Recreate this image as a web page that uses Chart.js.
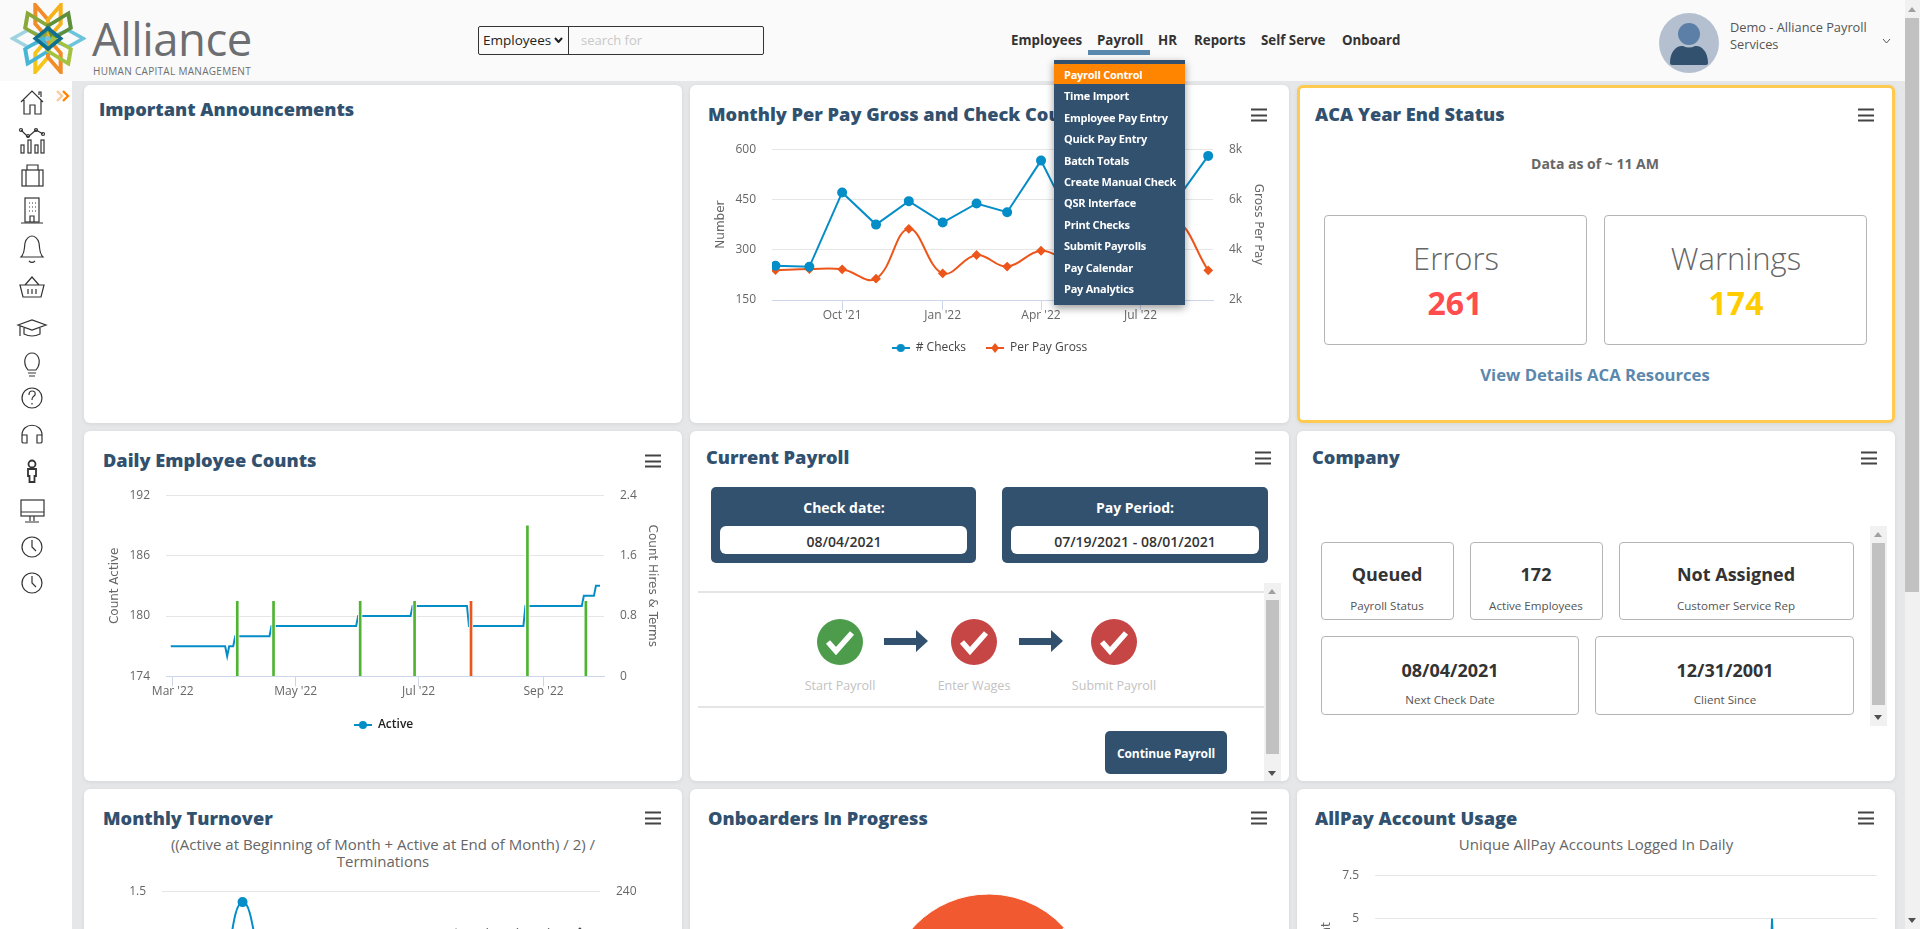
<!DOCTYPE html>
<html lang="en">
<head>
<meta charset="UTF-8" />
<title>Alliance Dashboard</title>
<script src="https://cdn.jsdelivr.net/npm/chart.js"></script>
<style>
  * { box-sizing: border-box; }
  html, body { margin: 0; width: 1920px; height: 929px; overflow: hidden; background: #e6e7e8; font-family: "Open Sans", sans-serif; color: #333; }
  .abs, .card, .txt, .box, canvas, svg.ic { position: absolute; }
  .card { background: #fff; border-radius: 6px; box-shadow: 0 1px 4px rgba(0,0,0,.08); }
  .title { position: absolute; font-weight: 800; font-size: 18.2px; color: #31516f; line-height: 24px; white-space: nowrap; transform: translateY(calc(-50% - 1px)); }
  .burger { position: absolute; width: 16px; height: 13px; border-top: 2px solid #444; border-bottom: 2px solid #444; transform: translate(-50%,-50%); }
  .burger::after { content: ""; position: absolute; left: 0; right: 0; top: 3.5px; height: 2px; background: #444; }
  .txt { white-space: nowrap; transform: translateY(-50%); }
  .ctr { transform: translate(-50%,-50%); text-align: center; }
  .box { border: 1px solid #b5b5b5; border-radius: 4px; background: #fff; }
  .nav { position: absolute; top: 40px; font-size: 13.3px; font-weight: 700; color: #333; transform: translateY(-50%); white-space: nowrap; }
  .menu-item { position: absolute; left: 1064px; font-size: 11px; letter-spacing: -.25px; font-weight: 700; color: #fff; transform: translateY(calc(-50% - 1px)); white-space: nowrap; }
  .track { position: absolute; background: #f1f1f1; }
  .thumb { position: absolute; background: #c1c1c1; }
  .up, .down { position: absolute; width: 0; height: 0; border-left: 4px solid transparent; border-right: 4px solid transparent; }
  .up { border-bottom: 5px solid #a0a0a0; }
  .down { border-top: 5px solid #505050; }
  .dark { position: absolute; background: #31516f; border-radius: 5px; }
  .white { position: absolute; background: #fff; border-radius: 6px; }
</style>
</head>
<body>

<!-- header -->
<div class="abs" style="left:0;top:0;width:1905px;height:81px;background:#fafafa"></div>
<svg class="ic" style="left:10px;top:3px" width="76" height="71" viewBox="10 4 60 68" preserveAspectRatio="none" fill="none" stroke-width="3.2">
  <path d="M40 38 L30 24 L30 6 L40 20 Z" stroke="#f28c28"/><path d="M40 38 L50 24 L50 6 L40 20 Z" stroke="#f5b21a"/>
  <path d="M40 38 L30 52 L30 70 L40 56 Z" stroke="#f5c518"/><path d="M40 38 L50 52 L50 70 L40 56 Z" stroke="#f28c28"/>
  <path d="M40 38 L24 30 L12 38 L24 46 Z" stroke="#9fd3e0"/><path d="M40 38 L56 30 L68 38 L56 46 Z" stroke="#6cc4dc"/>
  <path d="M24 14 L40 26 L36 38 L22 28 Z" stroke="#8aa83a"/><path d="M56 14 L40 26 L44 38 L58 28 Z" stroke="#5e8f3a"/>
  <path d="M24 62 L40 50 L36 38 L22 48 Z" stroke="#47b5d5"/><path d="M56 62 L40 50 L44 38 L58 48 Z" stroke="#a5c23f"/>
  <path d="M40 28 L50 38 L40 48 L30 38 Z" stroke="#0f6f8f"/>
</svg>
<div class="txt" style="left:92px;top:38px;font-size:45.5px;color:#6d6e71;font-weight:400;letter-spacing:-.5px">Alliance</div>
<div class="txt" style="left:93px;top:71px;font-size:10px;color:#6d6e71;letter-spacing:.3px">HUMAN CAPITAL MANAGEMENT</div>

<div class="abs" style="left:478px;top:26px;width:286px;height:29px;border:1px solid #333;border-radius:2px"></div>
<div class="abs" style="left:568px;top:26px;width:1px;height:29px;background:#333"></div>
<div class="txt" style="left:483px;top:40px;font-size:13.5px;color:#222">Employees</div>
<svg class="ic" style="left:554px;top:37px" width="9" height="6" viewBox="0 0 9 6" fill="none" stroke="#222" stroke-width="2"><path d="M1 1 L4.5 5 L8 1"/></svg>
<div class="txt" style="left:581px;top:40px;font-size:13px;color:#c8c8c8">search for</div>

<div class="nav" style="left:1011px">Employees</div>
<div class="nav" style="left:1097px">Payroll</div>
<div class="nav" style="left:1158px">HR</div>
<div class="nav" style="left:1194px">Reports</div>
<div class="nav" style="left:1261px">Self Serve</div>
<div class="nav" style="left:1342px">Onboard</div>
<div class="abs" style="left:1088px;top:50px;width:62px;height:5px;background:#5b88ad"></div>

<svg class="ic" style="left:1659px;top:13px" width="60" height="60" viewBox="0 0 60 60">
  <circle cx="30" cy="30" r="30" fill="#b4c0cf"/><circle cx="30" cy="21" r="11" fill="#5b7fa6"/>
  <path d="M11 50 C11 38 18 32 24 33 Q30 36 36 33 C42 32 49 38 49 50 Q49 52 46 52 L14 52 Q11 52 11 50 Z" fill="#31516f"/>
</svg>
<div class="txt" style="left:1730px;top:27px;font-size:12.8px;color:#555">Demo - Alliance Payroll</div>
<div class="txt" style="left:1730px;top:44px;font-size:12.8px;color:#555">Services</div>
<svg class="ic" style="left:1882px;top:38px" width="9" height="6" viewBox="0 0 9 6" fill="none" stroke="#555" stroke-width="1"><path d="M1 1 L4.5 5 L8 1"/></svg>

<!-- sidebar -->
<div class="abs" style="left:0;top:81px;width:72px;height:848px;background:#fff"></div>
<svg class="ic" style="left:56px;top:90px" width="14" height="12" viewBox="0 0 14 12" fill="none" stroke-width="2.4"><path d="M1 1 L6 6 L1 11" stroke="#fcc999"/><path d="M7 1 L12 6 L7 11" stroke="#ff8400"/></svg>
<svg class="ic" style="left:12px;top:85px" width="40" height="512" viewBox="0 0 40 512" fill="none" stroke="#333" stroke-width="1.2">
  <path d="M9 17 L20 6 L31 17 M12 15 V29 H18 V20 H23 V29 H29 V15 M27 10 V7 H29 V12"/>
  <path d="M9 45 L16 52 L24 45 L31 49"/><circle cx="9" cy="45" r="1.5"/><circle cx="16" cy="51" r="1.5"/><circle cx="24" cy="45" r="1.5"/><circle cx="31" cy="49" r="1.5"/>
  <rect x="9" y="60" width="3" height="8"/><rect x="16" y="55" width="3" height="13"/><rect x="23" y="60" width="3" height="8"/><rect x="29" y="55" width="3" height="13"/>
  <rect x="10" y="85" width="21" height="16"/><path d="M15 85 V80 H26 V85 M14 85 V101 M27 85 V101"/>
  <rect x="13" y="113" width="14" height="24"/><path d="M9 138 H31 M17 118 h1 M20 118 h1 M23 118 h1 M17 122 h1 M20 122 h1 M23 122 h1 M17 126 h1 M20 126 h1 M23 126 h1 M18 137 V131 H22 V137"/>
  <path d="M9 172 C13 168 12 164 13 158 C14 153 18 151 20 151 C22 151 26 153 27 158 C28 164 27 168 31 172 Z M17 176 Q20 179 23 176"/>
  <path d="M8 200 H32 L29 212 H11 Z M13 200 L20 192 L27 200 M16 204 V209 M20 204 V209 M24 204 V209"/>
  <path d="M6 240 L20 235 L34 240 L20 245 Z M12 243 V249 Q20 253 28 249 V243 M8 241 V251"/>
  <path d="M14 282 C11 275 14 268 20 268 C26 268 29 275 26 282 L24 285 H16 Z M16 288 H24 M17 291 H23"/>
  <circle cx="20" cy="313" r="10"/><path d="M17 310 Q17 306 20 306 Q24 306 23 310 Q20 312 20 315 M20 318 V319.5"/>
  <path d="M10 357 V350 C10 337 30 337 30 350 V357 M11 350 Q10 350 10 351 V357 Q10 358 12 358 H15 V350 Z M29 350 Q30 350 30 351 V357 Q30 358 28 358 H25 V350 Z"/>
  <circle cx="20" cy="379" r="3.5" stroke-width="1.8"/><path d="M16 384 H24 V391 H22.5 V397 H17.5 V391 H16 Z" stroke-width="1.8"/>
  <rect x="9" y="415" width="23" height="16"/><path d="M9 427 H32 M18 431 V436 M22 431 V436 M13 437 H27"/>
  <circle cx="20" cy="462" r="10"/><path d="M20 455 V462 L24 466"/>
  <circle cx="20" cy="498" r="10"/><path d="M20 491 V498 L24 502"/>
</svg>

<!-- page scrollbar -->
<div class="track" style="left:1905px;top:0;width:15px;height:929px"></div>
<div class="thumb" style="left:1905px;top:18px;width:14px;height:574px"></div>
<div class="up" style="left:1908px;top:7px"></div>
<div class="down" style="left:1908px;top:918px"></div>

<!-- row 1 -->
<div class="card" style="left:84px;top:85px;width:598px;height:338px"></div>
<div class="title" style="left:99px;top:110px">Important Announcements</div>

<div class="card" style="left:690px;top:85px;width:599px;height:338px"></div>
<div class="title" style="left:708px;top:115px">Monthly Per Pay Gross and Check Count</div>
<div class="burger" style="left:1259px;top:115px"></div>
<canvas id="grossChart" style="left:690px;top:126px" width="599" height="238"></canvas>

<div class="card" style="left:1297px;top:85px;width:598px;height:338px;border:3px solid #ffca4f"></div>
<div class="title" style="left:1315px;top:115px">ACA Year End Status</div>
<div class="burger" style="left:1866px;top:115px"></div>
<div class="txt ctr" style="left:1595px;top:163px;font-size:14px;font-weight:700;color:#666">Data as of ~ 11 AM</div>
<div class="box" style="left:1324px;top:215px;width:263px;height:130px"></div>
<div class="box" style="left:1604px;top:215px;width:263px;height:130px"></div>
<div class="txt ctr" style="left:1456px;top:258px;font-size:31px;font-weight:300;color:#666">Errors</div>
<div class="txt ctr" style="left:1736px;top:258px;font-size:31px;font-weight:300;color:#666">Warnings</div>
<div class="txt ctr" style="left:1455px;top:302px;font-size:32px;font-weight:700;color:#ff4d4d">261</div>
<div class="txt ctr" style="left:1736px;top:302px;font-size:32px;font-weight:700;color:#ffcc00">174</div>
<div class="txt ctr" style="left:1595px;top:374px;font-size:16.7px;font-weight:700;color:#5b88ad">View Details ACA Resources</div>

<!-- row 2 -->
<div class="card" style="left:84px;top:431px;width:598px;height:350px"></div>
<div class="title" style="left:103px;top:461px">Daily Employee Counts</div>
<div class="burger" style="left:653px;top:461px"></div>
<canvas id="dailyChart" style="left:84px;top:472px" width="598" height="269"></canvas>

<div class="card" style="left:690px;top:431px;width:599px;height:350px"></div>
<div class="title" style="left:706px;top:458px">Current Payroll</div>
<div class="burger" style="left:1263px;top:458px"></div>
<div class="dark" style="left:711px;top:487px;width:265px;height:76px"></div>
<div class="dark" style="left:1002px;top:487px;width:266px;height:76px"></div>
<div class="white" style="left:720px;top:526px;width:247px;height:28px"></div>
<div class="white" style="left:1011px;top:526px;width:248px;height:28px"></div>
<div class="txt ctr" style="left:844px;top:507px;font-size:14px;font-weight:700;color:#fff">Check date:</div>
<div class="txt ctr" style="left:1135px;top:507px;font-size:14px;font-weight:700;color:#fff">Pay Period:</div>
<div class="txt ctr" style="left:844px;top:541px;font-size:14px;font-weight:600;color:#333">08/04/2021</div>
<div class="txt ctr" style="left:1135px;top:541px;font-size:14px;font-weight:600;color:#333">07/19/2021 - 08/01/2021</div>
<div class="abs" style="left:698px;top:591px;width:566px;height:2px;background:#e5e5e5"></div>
<div class="abs" style="left:698px;top:706px;width:566px;height:2px;background:#e5e5e5"></div>
<div class="track" style="left:1264px;top:583px;width:17px;height:198px"></div>
<div class="thumb" style="left:1266px;top:600px;width:13px;height:154px"></div>
<div class="up" style="left:1268px;top:589px"></div>
<div class="down" style="left:1268px;top:771px"></div>
<svg class="ic" style="left:810px;top:615px" width="340" height="54" viewBox="0 0 340 54">
  <circle cx="30" cy="27" r="23" fill="#4c9c4c"/><circle cx="164" cy="27" r="23" fill="#c64545"/><circle cx="304" cy="27" r="23" fill="#c64545"/>
  <path d="M18 27 L26 36 L42 18 M152 27 L160 36 L176 18 M292 27 L300 36 L316 18" fill="none" stroke="#fff" stroke-width="5.5"/>
  <path d="M74 23 H106 V15 L118 26 L106 37 V30 H74 Z M209 23 H241 V15 L253 26 L241 37 V30 H209 Z" fill="#31516f"/>
</svg>
<div class="txt ctr" style="left:840px;top:685px;font-size:12.5px;color:#c2c2c2">Start Payroll</div>
<div class="txt ctr" style="left:974px;top:685px;font-size:12.5px;color:#c2c2c2">Enter Wages</div>
<div class="txt ctr" style="left:1114px;top:685px;font-size:12.5px;color:#c2c2c2">Submit Payroll</div>
<div class="dark" style="left:1105px;top:731px;width:122px;height:43px"></div>
<div class="txt ctr" style="left:1166px;top:753px;font-size:12px;letter-spacing:-.1px;font-weight:700;color:#fff">Continue Payroll</div>

<div class="card" style="left:1297px;top:431px;width:598px;height:350px"></div>
<div class="title" style="left:1312px;top:458px">Company</div>
<div class="burger" style="left:1869px;top:458px"></div>
<div class="box" style="left:1321px;top:542px;width:133px;height:78px"></div>
<div class="box" style="left:1470px;top:542px;width:133px;height:78px"></div>
<div class="box" style="left:1619px;top:542px;width:235px;height:78px"></div>
<div class="box" style="left:1321px;top:636px;width:258px;height:79px"></div>
<div class="box" style="left:1595px;top:636px;width:259px;height:79px"></div>
<div class="txt ctr" style="left:1387px;top:574px;font-size:18px;font-weight:700">Queued</div>
<div class="txt ctr" style="left:1536px;top:574px;font-size:18px;font-weight:700">172</div>
<div class="txt ctr" style="left:1736px;top:574px;font-size:18px;font-weight:700">Not Assigned</div>
<div class="txt ctr" style="left:1450px;top:670px;font-size:18px;font-weight:700">08/04/2021</div>
<div class="txt ctr" style="left:1725px;top:670px;font-size:18px;font-weight:700">12/31/2001</div>
<div class="txt ctr" style="left:1387px;top:605px;font-size:11.6px;color:#555">Payroll Status</div>
<div class="txt ctr" style="left:1536px;top:605px;font-size:11.6px;color:#555">Active Employees</div>
<div class="txt ctr" style="left:1736px;top:605px;font-size:11.6px;color:#555">Customer Service Rep</div>
<div class="txt ctr" style="left:1450px;top:699px;font-size:11.6px;color:#555">Next Check Date</div>
<div class="txt ctr" style="left:1725px;top:699px;font-size:11.6px;color:#555">Client Since</div>
<div class="track" style="left:1870px;top:526px;width:17px;height:200px"></div>
<div class="thumb" style="left:1872px;top:543px;width:13px;height:162px"></div>
<div class="up" style="left:1874px;top:532px"></div>
<div class="down" style="left:1874px;top:715px"></div>

<!-- row 3 -->
<div class="card" style="left:84px;top:789px;width:598px;height:200px"></div>
<div class="title" style="left:103px;top:819px">Monthly Turnover</div>
<div class="burger" style="left:653px;top:818px"></div>
<div class="txt ctr" style="left:383px;top:844px;font-size:15px;color:#666">((Active at Beginning of Month + Active at End of Month) / 2) /</div>
<div class="txt ctr" style="left:383px;top:861px;font-size:15px;color:#666">Terminations</div>
<canvas id="turnoverChart" style="left:84px;top:868px" width="598" height="262"></canvas>

<div class="card" style="left:690px;top:789px;width:599px;height:200px"></div>
<div class="title" style="left:708px;top:819px">Onboarders In Progress</div>
<div class="burger" style="left:1259px;top:818px"></div>
<canvas id="onboardChart" style="left:886px;top:893px" width="205" height="206"></canvas>

<div class="card" style="left:1297px;top:789px;width:598px;height:200px"></div>
<div class="title" style="left:1315px;top:819px">AllPay Account Usage</div>
<div class="burger" style="left:1866px;top:818px"></div>
<div class="txt ctr" style="left:1596px;top:844px;font-size:15px;color:#666">Unique AllPay Accounts Logged In Daily</div>
<canvas id="allpayChart" style="left:1297px;top:852px" width="598" height="201"></canvas>

<!-- payroll dropdown, sits over the first chart -->
<div class="abs" style="left:1054px;top:60px;width:131px;height:245px;background:#31516f;box-shadow:0 3px 8px rgba(0,0,0,.4)"></div>
<div class="abs" style="left:1054px;top:64px;width:131px;height:20px;background:#ff8400"></div>
<div class="menu-item" style="top:75px">Payroll Control</div>
<div class="menu-item" style="top:96px">Time Import</div>
<div class="menu-item" style="top:118px">Employee Pay Entry</div>
<div class="menu-item" style="top:139px">Quick Pay Entry</div>
<div class="menu-item" style="top:161px">Batch Totals</div>
<div class="menu-item" style="top:182px">Create Manual Check</div>
<div class="menu-item" style="top:203px">QSR Interface</div>
<div class="menu-item" style="top:225px">Print Checks</div>
<div class="menu-item" style="top:246px">Submit Payrolls</div>
<div class="menu-item" style="top:268px">Pay Calendar</div>
<div class="menu-item" style="top:289px">Pay Analytics</div>

<script>
  // monthly gross chart
  const grossMonths = ["2021-08-01","2021-09-01","2021-10-01","2021-11-01","2021-12-01","2022-01-01","2022-02-01","2022-03-01","2022-04-01","2022-05-01","2022-06-01","2022-07-01","2022-08-01","2022-09-01"];
  const checkCounts = [252, 249, 471, 375, 445, 381, 438, 412, 566, 372, 400, 420, 440, 580];
  const perPayGross = [3190, 3230, 3220, 2850, 4830, 3060, 3790, 3330, 3960, 3500, 3800, 4200, 5200, 3180];
  const grossTickDates = ["2021-10-01","2022-01-01","2022-04-01","2022-07-01"];
  const grossTickLabels = ["Oct '21","Jan '22","Apr '22","Jul '22"];

  const activeDates = ["2022-02-28","2022-03-27","2022-03-28","2022-03-29","2022-03-31","2022-04-01","2022-04-18","2022-04-19","2022-05-31","2022-06-01","2022-06-27","2022-06-28","2022-07-25","2022-07-26","2022-08-22","2022-08-23","2022-09-20","2022-09-21","2022-09-26","2022-09-27","2022-09-29"];
  const activeCounts = [177, 177, 176, 177, 177, 178, 178, 179, 179, 180, 180, 181, 181, 179, 179, 181, 181, 182, 182, 183, 183];
  const hireDates = ["2022-04-02","2022-04-20","2022-06-02","2022-06-29","2022-08-24","2022-09-22"];
  const hireCounts = [1, 1, 1, 1, 2, 1];
  const termDates = ["2022-07-27"];
  const termCounts = [1];
  const dailyTickDates = ["2022-03-01","2022-05-01","2022-07-01","2022-09-01"];
  const dailyTickLabels = ["Mar '22","May '22","Jul '22","Sep '22"];

  // turnover, only the top of this chart is in view
  const turnoverRate = [0.5, 0.5, 1.41, 0.55, 0.5, 0.45, 0.6, 0.5, 0.45, 0.5, 0.55, 0.5, 0.45, 0.5];
  const turnoverActive = [178, 178, 179, 180, 180, 181, 181, 182, 183.6, 184.5, 185, 185, 185, 186];

  // onboarders pie
  const onboardLabels = ["In Progress", "Other"];
  const onboardValues = [80, 20];

  // allpay usage
  const allpayDates = ["2022-03-01","2022-04-12","2022-06-07","2022-08-17","2022-08-18","2022-08-19","2022-09-29"];
  const allpayCounts = [1, 2, 1, 1, 5, 1, 1];

  const BLUE = "#058DC7", ORANGE = "#ED561B", GREEN = "#50B432", DARK = "#434348";
  const GRID = "#e6e6e6", AXIS = "#ccd6eb";

  Chart.defaults.font.family = '"Open Sans", sans-serif';
  Chart.defaults.font.size = 12;
  Chart.defaults.color = "#666";
  Chart.defaults.animation = false;
  Chart.defaults.responsive = false;

  function day(s) { return Date.parse(s); }
  function pairs(dates, vals) { return dates.map((d, i) => ({ x: day(d), y: vals[i] })); }

  // small line + marker picture for the legend
  function legendIcon(color, shape) {
    const c = document.createElement("canvas");
    c.width = 18; c.height = 10;
    const g = c.getContext("2d");
    g.fillStyle = color;
    g.fillRect(0, 4, 18, 2);
    g.beginPath();
    if (shape == "diamond") { g.moveTo(9, 0); g.lineTo(13, 5); g.lineTo(9, 10); g.lineTo(5, 5); }
    else g.arc(9, 5, 4, 0, Math.PI * 2);
    g.fill();
    return c;
  }

  function legendOpts(labelColor, weight) {
    return {
      display: true,
      position: "bottom",
      labels: {
        usePointStyle: true,
        pointStyleWidth: 18,
        padding: 20,
        color: labelColor,
        font: { size: 12, weight: weight },
        generateLabels: (chart) =>
          chart.data.datasets.filter((d) => d.legendIcon).map((d) => ({
            text: d.label, pointStyle: d.legendIcon, fontColor: labelColor, lineWidth: 0, strokeStyle: "transparent", fillStyle: "transparent",
          })),
      },
    };
  }

  function xAxis(minDate, maxDate, tickDates, tickLabels, height) {
    return {
      type: "linear",
      min: minDate,
      max: maxDate,
      offset: false,
      afterBuildTicks: (s) => { s.ticks = tickDates.map((d) => ({ value: day(d) })); },
      afterFit: (s) => { s.height = height; },
      border: { color: AXIS },
      grid: { offset: false, drawOnChartArea: false, tickLength: 10, tickColor: AXIS },
      ticks: { autoSkip: false, maxRotation: 0, padding: -2, color: "#666", callback: (v, i) => tickLabels[i] },
    };
  }

  function yAxis(pos, min, max, step, width, title, fmt) {
    return {
      position: pos,
      min: min,
      max: max,
      afterFit: (s) => { s.width = width; },
      border: { display: false },
      grid: pos == "left" ? { color: GRID, drawTicks: false } : { drawOnChartArea: false, drawTicks: false },
      title: { display: !!title, text: title, color: "#666", padding: 0, font: { family: '"DejaVu Sans"', size: 12 } },
      ticks: { stepSize: step, padding: 16, color: "#666", callback: fmt || ((v) => +v.toFixed(1)) },
    };
  }

  new Chart(document.getElementById("grossChart"), {
    type: "line",
    data: {
      datasets: [
        { label: "# Checks", data: pairs(grossMonths, checkCounts), yAxisID: "y", borderColor: BLUE, backgroundColor: BLUE, borderWidth: 2, pointRadius: 4, tension: 0, legendIcon: legendIcon(BLUE) },
        { label: "Per Pay Gross", data: pairs(grossMonths, perPayGross), yAxisID: "y2", borderColor: ORANGE, backgroundColor: ORANGE, borderWidth: 2, pointStyle: "rectRot", pointRadius: 3.5, tension: 0.4, legendIcon: legendIcon(ORANGE, "diamond") },
      ],
    },
    options: {
      layout: { autoPadding: false, padding: { left: 24, right: 24, top: 0, bottom: 0 } },
      plugins: { legend: legendOpts("#444", "normal"), tooltip: { enabled: false } },
      scales: {
        x: xAxis(day("2021-10-01") - 64.2 * 864e5, day("2021-10-01") + 339.4 * 864e5, grossTickDates, grossTickLabels, 22),
        y: yAxis("left", 150, 600, 150, 58, "Number"),
        y2: yAxis("right", 2000, 8000, 2000, 52, "Gross Per Pay", (v) => v / 1000 + "k"),
      },
    },
  });

  new Chart(document.getElementById("dailyChart"), {
    type: "line",
    data: {
      datasets: [
        { label: "Active", data: pairs(activeDates, activeCounts), yAxisID: "y", borderColor: BLUE, backgroundColor: BLUE, borderWidth: 2, pointRadius: 0, tension: 0, order: 2, legendIcon: legendIcon(BLUE) },
        { type: "bar", label: "Hires", data: pairs(hireDates, hireCounts), yAxisID: "y2", backgroundColor: GREEN, borderColor: "#fff", borderWidth: { left: 1, right: 1, top: 0, bottom: 0 }, barThickness: 4, grouped: false, order: 1 },
        { type: "bar", label: "Terms", data: pairs(termDates, termCounts), yAxisID: "y2", backgroundColor: ORANGE, borderColor: "#fff", borderWidth: { left: 1, right: 1, top: 0, bottom: 0 }, barThickness: 4, grouped: false, order: 1 },
      ],
    },
    options: {
      layout: { autoPadding: false, padding: { left: 23.9, right: 22.8, top: 0, bottom: 0 } },
      plugins: { legend: legendOpts("#222", "600"), tooltip: { enabled: false } },
      scales: {
        x: xAxis(day("2022-03-01") - 3.36 * 864e5, day("2022-03-01") + 214 * 864e5, dailyTickDates, dailyTickLabels, 22.6),
        y: yAxis("left", 174, 192, 6, 58.1, "Count Active"),
        y2: yAxis("right", 0, 2.4, 0.8, 55.2, "Count Hires & Terms"),
      },
    },
  });

  new Chart(document.getElementById("turnoverChart"), {
    type: "line",
    data: {
      datasets: [
        { label: "Turnover", data: pairs(grossMonths, turnoverRate), yAxisID: "y", borderColor: BLUE, backgroundColor: BLUE, borderWidth: 2, pointRadius: 4, tension: 0.4 },
        { label: "Active", data: pairs(grossMonths, turnoverActive), yAxisID: "y2", borderColor: DARK, backgroundColor: DARK, borderWidth: 2, pointStyle: "rectRot", pointRadius: 3.5, tension: 0.4 },
      ],
    },
    options: {
      layout: { autoPadding: false, padding: { left: 0, right: 0, top: 0, bottom: 0 } },
      plugins: { legend: { display: false }, tooltip: { enabled: false } },
      scales: {
        x: xAxis(day("2021-08-01") - 19 * 864e5, day("2022-09-01") + 20 * 864e5, grossTickDates, grossTickLabels, 57),
        y: yAxis("left", 0, 1.5, 0.5, 78),
        y2: yAxis("right", 0, 240, 80, 82),
      },
    },
  });

  new Chart(document.getElementById("onboardChart"), {
    type: "pie",
    data: {
      labels: onboardLabels,
      datasets: [{ data: onboardValues, backgroundColor: ["#f15a31", "#cccccc"], borderColor: "#fff", borderWidth: 1, radius: 102, rotation: 120 }],
    },
    options: {
      layout: { padding: 0 },
      plugins: { legend: { display: false }, tooltip: { enabled: false } },
    },
  });

  new Chart(document.getElementById("allpayChart"), {
    type: "line",
    data: {
      datasets: [
        { label: "Count", data: pairs(allpayDates, allpayCounts), yAxisID: "y", borderColor: BLUE, backgroundColor: BLUE, borderWidth: 2, pointRadius: 0, tension: 0 },
      ],
    },
    options: {
      layout: { autoPadding: false, padding: { left: 22.8, right: 18, top: 0, bottom: 0 } },
      plugins: { legend: { display: false }, tooltip: { enabled: false } },
      scales: {
        x: xAxis(day("2022-03-01") - 4 * 864e5, day("2022-09-29") + 4 * 864e5, dailyTickDates, dailyTickLabels, 48),
        y: yAxis("left", 0, 7.5, 2.5, 55.2, "Count"),
      },
    },
  });
</script>
</body>
</html>
